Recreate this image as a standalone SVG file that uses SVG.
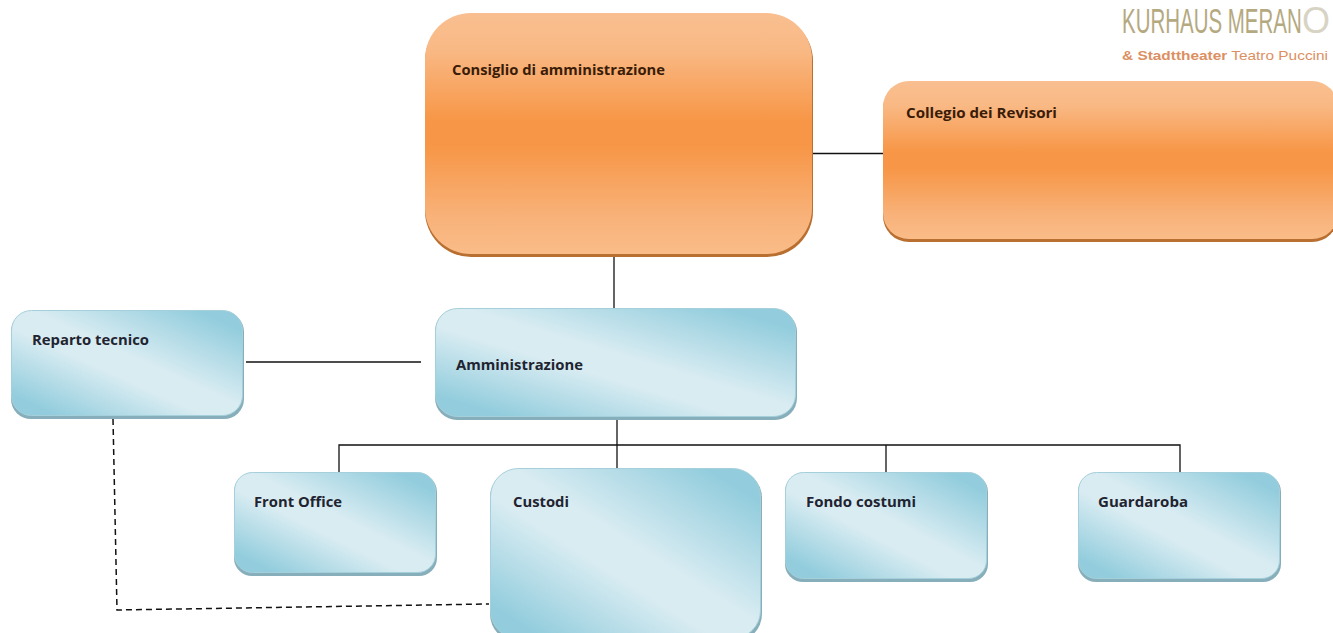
<svg xmlns="http://www.w3.org/2000/svg" width="1333" height="633" viewBox="0 0 1333 633">
<style>
.lbl{font-family:"Open Sans","Noto Sans","Liberation Sans",sans-serif;font-weight:700;font-size:14px;fill:#1f2430}
.olbl{fill:#3a1c08}
.ob{fill:#b86f30}
.of{fill:url(#orange)}
.bb{fill:#86aebb}
.bf{fill:url(#blue);stroke:#a5cfda;stroke-width:1}
.ln{fill:none;stroke:#111;stroke-width:1.3}
.ds{fill:none;stroke:#111;stroke-width:1.5;stroke-dasharray:6 4}
</style>
<defs>
<linearGradient id="orange" x1="0" y1="0" x2="0" y2="1">
<stop offset="0" stop-color="#f9bf90"/><stop offset="0.15" stop-color="#f9b985"/><stop offset="0.45" stop-color="#f79646"/><stop offset="0.55" stop-color="#f79646"/><stop offset="0.85" stop-color="#f8b27a"/><stop offset="1" stop-color="#fabc88"/>
</linearGradient>
<linearGradient id="blue" x1="1" y1="0" x2="0" y2="1">
<stop offset="0.1" stop-color="#93cddd"/><stop offset="0.46" stop-color="#d9ecf2"/><stop offset="0.58" stop-color="#d9ecf2"/><stop offset="0.9" stop-color="#93cddd"/>
</linearGradient>
</defs>
<g id="connectors">
<path class="ln" d="M813 153.500H883"/>
<path class="ln" d="M614 256V308"/>
<path class="ln" d="M246 362H421"/>
<path class="ln" d="M617 419V468"/>
<path class="ln" d="M339 472V445H1180V472"/>
<path class="ln" d="M886 445V472"/>
<path class="ds" d="M113 419L117 610L489 604"/>
</g>
<g id="logo">
<text transform="translate(1122 33) scale(0.569 1)" font-family="'Liberation Sans',sans-serif" font-size="36" fill="#b5a97f">KURHAUS MERAN</text>
<text x="1302" y="33" font-family="'Liberation Sans',sans-serif" font-size="36" fill="#d8d4c4" textLength="28" lengthAdjust="spacingAndGlyphs">O</text>
<text x="1122" y="60" font-family="'Liberation Sans',sans-serif" font-size="13" fill="#dc8f62" textLength="206" lengthAdjust="spacingAndGlyphs"><tspan font-weight="700">&amp; Stadttheater</tspan> Teatro Puccini</text>
</g>
<g id="consiglio">
<rect class="ob" x="425" y="15" width="388" height="242" rx="46"/>
<rect class="of" x="425" y="13" width="387" height="241" rx="46"/>
<text class="lbl olbl" x="452" y="75" textLength="213" lengthAdjust="spacingAndGlyphs">Consiglio di amministrazione</text>
</g>
<g id="collegio">
<rect class="ob" x="883" y="83" width="455" height="159" rx="26"/>
<rect class="of" x="883" y="81" width="455" height="158" rx="26"/>
<text class="lbl olbl" x="906" y="118" textLength="151" lengthAdjust="spacingAndGlyphs">Collegio dei Revisori</text>
</g>
<g id="amministrazione">
<rect class="bb" x="435" y="310" width="362" height="110" rx="22"/>
<rect class="bf" x="435.500" y="308.500" width="360" height="108" rx="22"/>
<text class="lbl" x="456" y="370" textLength="127" lengthAdjust="spacingAndGlyphs">Amministrazione</text>
</g>
<g id="reparto">
<rect class="bb" x="11" y="312" width="233" height="107" rx="20"/>
<rect class="bf" x="11.500" y="310.500" width="231" height="105" rx="20"/>
<text class="lbl" x="32" y="345" textLength="117" lengthAdjust="spacingAndGlyphs">Reparto tecnico</text>
</g>
<g id="front-office">
<rect class="bb" x="234" y="474" width="203" height="102" rx="18"/>
<rect class="bf" x="234.500" y="472.500" width="201" height="100" rx="18"/>
<text class="lbl" x="254" y="507" textLength="88" lengthAdjust="spacingAndGlyphs">Front Office</text>
</g>
<g id="custodi">
<rect class="bb" x="490" y="470" width="272" height="172" rx="28"/>
<rect class="bf" x="490.500" y="468.500" width="270" height="170" rx="28"/>
<text class="lbl" x="513" y="507" textLength="56" lengthAdjust="spacingAndGlyphs">Custodi</text>
</g>
<g id="fondo-costumi">
<rect class="bb" x="785" y="474" width="203" height="108" rx="18"/>
<rect class="bf" x="785.500" y="472.500" width="201" height="106" rx="18"/>
<text class="lbl" x="806" y="507" textLength="110" lengthAdjust="spacingAndGlyphs">Fondo costumi</text>
</g>
<g id="guardaroba">
<rect class="bb" x="1078" y="474" width="203" height="108" rx="18"/>
<rect class="bf" x="1078.500" y="472.500" width="201" height="106" rx="18"/>
<text class="lbl" x="1098" y="507" textLength="90" lengthAdjust="spacingAndGlyphs">Guardaroba</text>
</g>
</svg>
